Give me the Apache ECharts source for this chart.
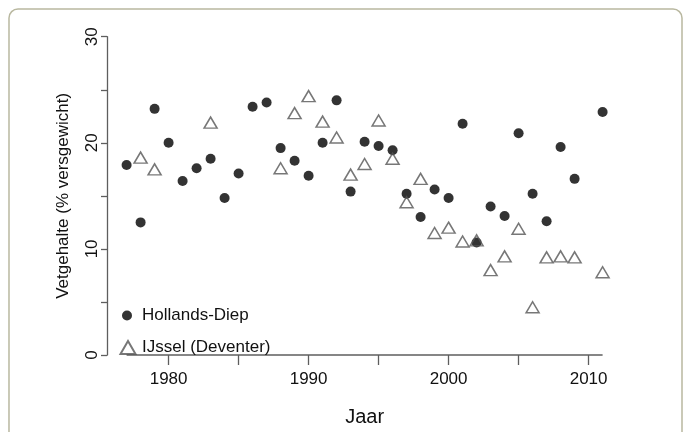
<!DOCTYPE html>
<html>
<head>
<meta charset="utf-8">
<script src="https://cdn.jsdelivr.net/npm/echarts@6/dist/echarts.min.js"></script>
<style>
html,body{margin:0;padding:0;background:#fff;}
#chart{width:689px;height:432px;}
</style>
</head>
<body>
<div id="chart"></div>
<script>
// Data
const yearsHollandsDiep = [1977,1978,1979,1980,1981,1982,1983,1984,1985,1986,1987,1988,1989,1990,1991,1992,1993,1994,1995,1996,1997,1998,1999,2000,2001,2002,2003,2004,2005,2006,2007,2008,2009,2011];
const valuesHollandsDiep = [17.9,12.5,23.2,20.0,16.4,17.6,18.5,14.8,17.1,23.4,23.8,19.5,18.3,16.9,20.0,24.0,15.4,20.1,19.7,19.3,15.2,13.0,15.6,14.8,21.8,10.6,14.0,13.1,20.9,15.2,12.6,19.6,16.6,22.9];
const yearsIJssel = [1978,1979,1983,1988,1989,1990,1991,1992,1993,1994,1995,1996,1997,1998,1999,2000,2001,2002,2003,2004,2005,2006,2007,2008,2009,2011];
const valuesIJssel = [18.6,17.5,21.9,17.6,22.8,24.4,22.0,20.5,17.0,18.0,22.1,18.5,14.4,16.6,11.5,12.0,10.7,10.8,8.0,9.3,11.9,4.5,9.2,9.3,9.2,7.8];
const xTickValues = [1980,1985,1990,1995,2000,2005,2010];
const xLabelValues = [1980,1990,2000,2010];
const yTickValues = [0,5,10,15,20,25,30];
const yLabelValues = [0,10,20,30];
const xAxisLineRange = [1977, 2011];
const seriesNames = ['Hollands-Diep', 'IJssel (Deventer)'];
const xTitle = 'Jaar';
const yTitle = 'Vetgehalte (% versgewicht)';

const hdData = yearsHollandsDiep.map((y, i) => [y, valuesHollandsDiep[i]]);
const ijData = yearsIJssel.map((y, i) => [y, valuesIJssel[i]]);

const FONT = '"Liberation Sans", Arial, Helvetica, sans-serif';
const AXIS_COLOR = '#5e5e5e';
const TEXT_COLOR = '#111';

const chart = echarts.init(document.getElementById('chart'), null, {renderer: 'canvas'});
chart.setOption({
  animation: false,
  backgroundColor: '#fff',
  textStyle: {fontFamily: FONT},
  graphic: [{
    type: 'rect',
    shape: {x: 9, y: 9, width: 673, height: 450, r: 9},
    style: {fill: 'none', stroke: '#b9b8a0', lineWidth: 1.5},
    silent: true,
    z: -10
  }],
  grid: {left: 107, right: 66.8, top: 36.7, bottom: 74.3},
  xAxis: {
    type: 'value',
    min: 1975.6,
    max: 2012.4,
    name: xTitle,
    nameLocation: 'middle',
    nameGap: 52,
    nameTextStyle: {fontSize: 20, color: TEXT_COLOR, fontFamily: FONT},
    splitLine: {show: false},
    axisLine: {show: false},
    axisTick: {show: true, customValues: xTickValues, length: 10, lineStyle: {color: AXIS_COLOR, width: 1.3}},
    axisLabel: {customValues: xLabelValues, fontSize: 17, color: TEXT_COLOR, margin: 16, fontFamily: FONT,
      formatter: v => String(v)}
  },
  yAxis: {
    type: 'value',
    min: 0,
    max: 30,
    interval: 5,
    name: yTitle,
    nameLocation: 'middle',
    nameGap: 35,
    nameRotate: 90,
    nameTextStyle: {fontSize: 17, color: TEXT_COLOR, fontFamily: FONT},
    splitLine: {show: false},
    axisLine: {show: true, lineStyle: {color: AXIS_COLOR, width: 1.3}},
    axisTick: {show: true, customValues: yTickValues, length: 6, lineStyle: {color: AXIS_COLOR, width: 1.3}},
    axisLabel: {customValues: yLabelValues, rotate: 90, fontSize: 17, color: TEXT_COLOR, margin: 6, fontFamily: FONT,
      formatter: v => String(v)}
  },
  legend: [{
    data: [seriesNames[0]],
    orient: 'vertical',
    left: 122,
    top: 307,
    padding: 0,
    itemWidth: 10,
    itemHeight: 10,
    itemGap: 0,
    icon: 'circle',
    textStyle: {fontSize: 17, color: TEXT_COLOR, fontFamily: FONT, padding: [0, 0, 0, 5]}
  }, {
    data: [seriesNames[1]],
    orient: 'vertical',
    left: 119.5,
    top: 339,
    padding: 0,
    itemWidth: 15,
    itemHeight: 13,
    itemGap: 0,
    icon: 'triangle',
    textStyle: {fontSize: 17, color: TEXT_COLOR, fontFamily: FONT, padding: [0, 0, 0, 1.5]}
  }],
  series: [{
    name: 'axis',
    type: 'line',
    data: xAxisLineRange.map(x => [x, 0]),
    symbol: 'none',
    lineStyle: {color: AXIS_COLOR, width: 1.5},
    clip: false,
    silent: true,
    z: 1
  }, {
    name: seriesNames[0],
    type: 'scatter',
    data: hdData,
    symbol: 'circle',
    symbolSize: 10,
    itemStyle: {color: '#000'},
    z: 2
  }, {
    name: seriesNames[1],
    type: 'scatter',
    data: ijData,
    symbol: 'triangle',
    symbolSize: [13, 11],
    itemStyle: {color: 'rgba(255,255,255,0)', borderColor: '#555', borderWidth: 1.5},
    z: 3
  }]
});
</script>
</body>
</html>
